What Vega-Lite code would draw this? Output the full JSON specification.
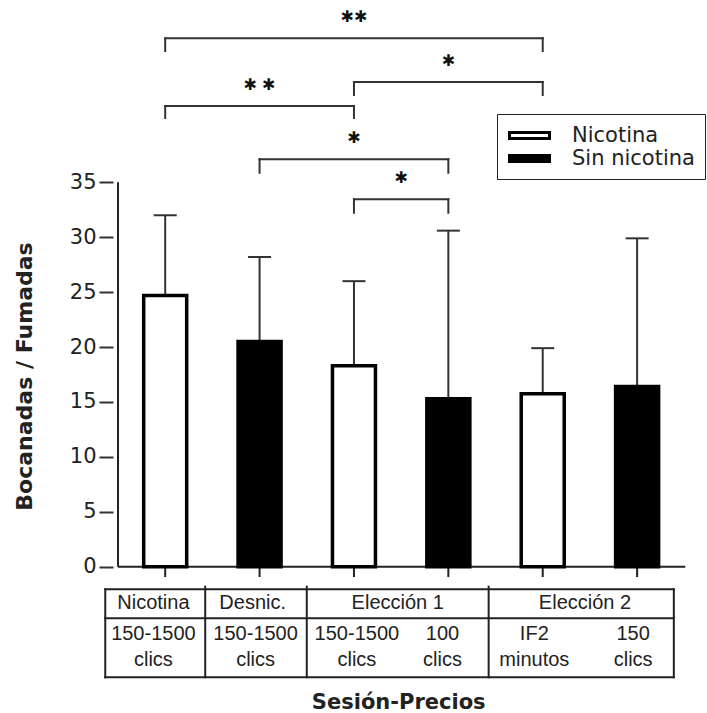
{
  "$schema": "https://vega.github.io/schema/vega-lite/v6.json",
  "width": 594,
  "height": 713,
  "autosize": {"type": "none"},
  "padding": {"left": 113, "top": 0, "right": 0, "bottom": 0},
  "background": "white",
  "config": {
    "view": {"stroke": null},
    "axisX": {"disable": true}
  },
  "datasets": {
    "barras": [
      {"pos": 1, "sesion": "Nicotina 150-1500 clics", "grupo": "Nicotina", "valor": 24.7, "sup": 32.0},
      {"pos": 2, "sesion": "Desnic. 150-1500 clics", "grupo": "Sin nicotina", "valor": 20.5, "sup": 28.2},
      {"pos": 3, "sesion": "Elección 1 150-1500 clics", "grupo": "Nicotina", "valor": 18.3, "sup": 26.0},
      {"pos": 4, "sesion": "Elección 1 100 clics", "grupo": "Sin nicotina", "valor": 15.3, "sup": 30.6},
      {"pos": 5, "sesion": "Elección 2 IF2 minutos", "grupo": "Nicotina", "valor": 15.75, "sup": 19.9},
      {"pos": 6, "sesion": "Elección 2 150 clics", "grupo": "Sin nicotina", "valor": 16.4, "sup": 29.9}
    ],
    "corchetes": [
      {"x1": 1, "x2": 5, "mid": 3, "nivel": 48.11, "punta": 46.95, "sig": "✱✱"},
      {"x1": 3, "x2": 5, "mid": 4, "nivel": 44.13, "punta": 42.95, "sig": "✱"},
      {"x1": 1, "x2": 3, "mid": 2, "nivel": 41.95, "punta": 40.86, "sig": "✱ ✱"},
      {"x1": 2, "x2": 4, "mid": 3, "nivel": 37.1, "punta": 35.87, "sig": "✱"},
      {"x1": 3, "x2": 4, "mid": 3.5, "nivel": 33.45, "punta": 32.23, "sig": "✱"}
    ],
    "tabla_lineas": [
      {"xa": 0.365, "xb": 6.389, "ya": -2.058, "yb": -2.058},
      {"xa": 0.365, "xb": 6.389, "ya": -4.7, "yb": -4.7},
      {"xa": 0.365, "xb": 6.389, "ya": -10.07, "yb": -10.07},
      {"xa": 0.365, "xb": 0.365, "ya": -2.058, "yb": -10.07},
      {"xa": 6.389, "xb": 6.389, "ya": -2.058, "yb": -10.07},
      {"xa": 1.424, "xb": 1.424, "ya": -1.82, "yb": -10.07},
      {"xa": 2.5, "xb": 2.5, "ya": -1.82, "yb": -10.07},
      {"xa": 4.427, "xb": 4.427, "ya": -1.82, "yb": -10.07}
    ],
    "tabla_textos": [
      {"tx": 0.875, "ty": -3.31, "t": "Nicotina"},
      {"tx": 1.927, "ty": -3.31, "t": "Desnic."},
      {"tx": 3.464, "ty": -3.31, "t": "Elección 1"},
      {"tx": 5.448, "ty": -3.31, "t": "Elección 2"},
      {"tx": 0.875, "ty": -6.13, "t": "150-1500"},
      {"tx": 0.875, "ty": -8.5, "t": "clics"},
      {"tx": 1.958, "ty": -6.13, "t": "150-1500"},
      {"tx": 1.958, "ty": -8.5, "t": "clics"},
      {"tx": 3.031, "ty": -6.13, "t": "150-1500"},
      {"tx": 3.031, "ty": -8.5, "t": "clics"},
      {"tx": 3.9375, "ty": -6.13, "t": "100"},
      {"tx": 3.9375, "ty": -8.5, "t": "clics"},
      {"tx": 4.911, "ty": -6.13, "t": "IF2"},
      {"tx": 4.911, "ty": -8.5, "t": "minutos"},
      {"tx": 5.958, "ty": -6.13, "t": "150"},
      {"tx": 5.958, "ty": -8.5, "t": "clics"}
    ]
  },
  "layer": [
    {
      "data": {"values": [{"linea": "eje y"}]},
      "mark": {"type": "rule", "color": "#222", "strokeWidth": 2},
      "encoding": {
        "x": {"datum": 0.5, "type": "quantitative", "scale": {"domain": [0.5, 6.6875], "nice": false, "zero": false}, "axis": null},
        "y": {"datum": 0, "type": "quantitative", "scale": {"domain": [-13.32, 51.6], "nice": false, "zero": false}},
        "y2": {"datum": 35}
      }
    },
    {
      "data": {"values": [{"linea": "eje x"}]},
      "mark": {"type": "rule", "color": "#222", "strokeWidth": 2},
      "encoding": {
        "x": {"datum": 0.5, "type": "quantitative", "axis": null},
        "x2": {"datum": 6.51},
        "y": {"datum": 0, "type": "quantitative"}
      }
    },
    {
      "data": {"name": "barras"},
      "mark": {"type": "rule", "color": "#222", "strokeWidth": 2},
      "encoding": {
        "x": {"field": "pos", "type": "quantitative", "axis": null},
        "y": {"datum": 0, "type": "quantitative"},
        "y2": {"datum": -0.94}
      }
    },
    {
      "data": {"name": "barras"},
      "mark": {"type": "rule", "color": "#333", "strokeWidth": 2},
      "encoding": {
        "x": {"field": "pos", "type": "quantitative", "axis": null},
        "y": {"field": "valor", "type": "quantitative"},
        "y2": {"field": "sup"}
      }
    },
    {
      "data": {"name": "barras"},
      "mark": {"type": "tick", "orient": "horizontal", "color": "#333", "size": 23, "thickness": 2, "opacity": 1},
      "encoding": {
        "x": {"field": "pos", "type": "quantitative", "axis": null},
        "y": {"field": "sup", "type": "quantitative"}
      }
    },
    {
      "data": {"name": "barras"},
      "mark": {"type": "bar", "width": 43, "stroke": "black", "strokeWidth": 3.5, "opacity": 1},
      "encoding": {
        "x": {"field": "pos", "type": "quantitative", "axis": null},
        "y": {
          "field": "valor",
          "type": "quantitative",
          "axis": {
            "title": "Bocanadas / Fumadas",
            "values": [0, 5, 10, 15, 20, 25, 30, 35],
            "domain": false,
            "grid": false,
            "ticks": true,
            "tickSize": 14,
            "tickWidth": 2,
            "tickColor": "#333",
            "labelFont": "DejaVu Sans",
            "labelFontSize": 21,
            "labelColor": "#222",
            "labelPadding": 3,
            "titleFont": "DejaVu Sans",
            "titleFontSize": 22,
            "titleFontWeight": "bold",
            "titleColor": "#222",
            "titlePadding": 33,
            "titleY": 376
          }
        },
        "y2": {"datum": 0},
        "fill": {
          "field": "grupo",
          "type": "nominal",
          "scale": {"domain": ["Nicotina", "Sin nicotina"], "range": ["white", "black"]},
          "legend": {
            "orient": "none",
            "legendX": 384,
            "legendY": 114,
            "title": null,
            "direction": "vertical",
            "strokeColor": "#222",
            "padding": 10,
            "symbolType": "M-2,-0.3H2V0.3H-2Z",
            "symbolSize": 400,
            "symbolStrokeColor": "black",
            "symbolStrokeWidth": 3,
            "symbolOffset": 11,
            "labelOffset": 31,
            "labelFont": "DejaVu Sans",
            "labelFontSize": 21,
            "labelColor": "#222",
            "rowPadding": 1
          }
        }
      }
    },
    {
      "data": {"name": "corchetes"},
      "mark": {"type": "rule", "color": "#333", "strokeWidth": 2, "strokeCap": "square"},
      "encoding": {
        "x": {"field": "x1", "type": "quantitative", "axis": null},
        "x2": {"field": "x2"},
        "y": {"field": "nivel", "type": "quantitative"}
      }
    },
    {
      "data": {"name": "corchetes"},
      "mark": {"type": "rule", "color": "#333", "strokeWidth": 2, "strokeCap": "square"},
      "encoding": {
        "x": {"field": "x1", "type": "quantitative", "axis": null},
        "y": {"field": "nivel", "type": "quantitative"},
        "y2": {"field": "punta"}
      }
    },
    {
      "data": {"name": "corchetes"},
      "mark": {"type": "rule", "color": "#333", "strokeWidth": 2, "strokeCap": "square"},
      "encoding": {
        "x": {"field": "x2", "type": "quantitative", "axis": null},
        "y": {"field": "nivel", "type": "quantitative"},
        "y2": {"field": "punta"}
      }
    },
    {
      "data": {"name": "corchetes"},
      "mark": {"type": "text", "font": "DejaVu Sans", "fontSize": 16, "baseline": "middle", "align": "center", "dy": -21, "color": "#111"},
      "encoding": {
        "x": {"field": "mid", "type": "quantitative", "axis": null},
        "y": {"field": "nivel", "type": "quantitative"},
        "text": {"field": "sig"}
      }
    },
    {
      "data": {"name": "tabla_lineas"},
      "mark": {"type": "rule", "color": "#222", "strokeWidth": 2, "strokeCap": "square"},
      "encoding": {
        "x": {"field": "xa", "type": "quantitative", "axis": null},
        "x2": {"field": "xb"},
        "y": {"field": "ya", "type": "quantitative"},
        "y2": {"field": "yb"}
      }
    },
    {
      "data": {"name": "tabla_textos"},
      "mark": {"type": "text", "font": "Liberation Sans", "fontSize": 20, "baseline": "middle", "align": "center", "color": "#222"},
      "encoding": {
        "x": {"field": "tx", "type": "quantitative", "axis": null},
        "y": {"field": "ty", "type": "quantitative"},
        "text": {"field": "t"}
      }
    },
    {
      "data": {"values": [{"titulo": "Sesión-Precios"}]},
      "mark": {"type": "text", "font": "DejaVu Sans", "fontWeight": "bold", "fontSize": 21, "baseline": "alphabetic", "align": "center", "color": "#222"},
      "encoding": {
        "x": {"datum": 3.474, "type": "quantitative", "axis": null},
        "y": {"datum": -12.96, "type": "quantitative"},
        "text": {"field": "titulo"}
      }
    }
  ]
}
